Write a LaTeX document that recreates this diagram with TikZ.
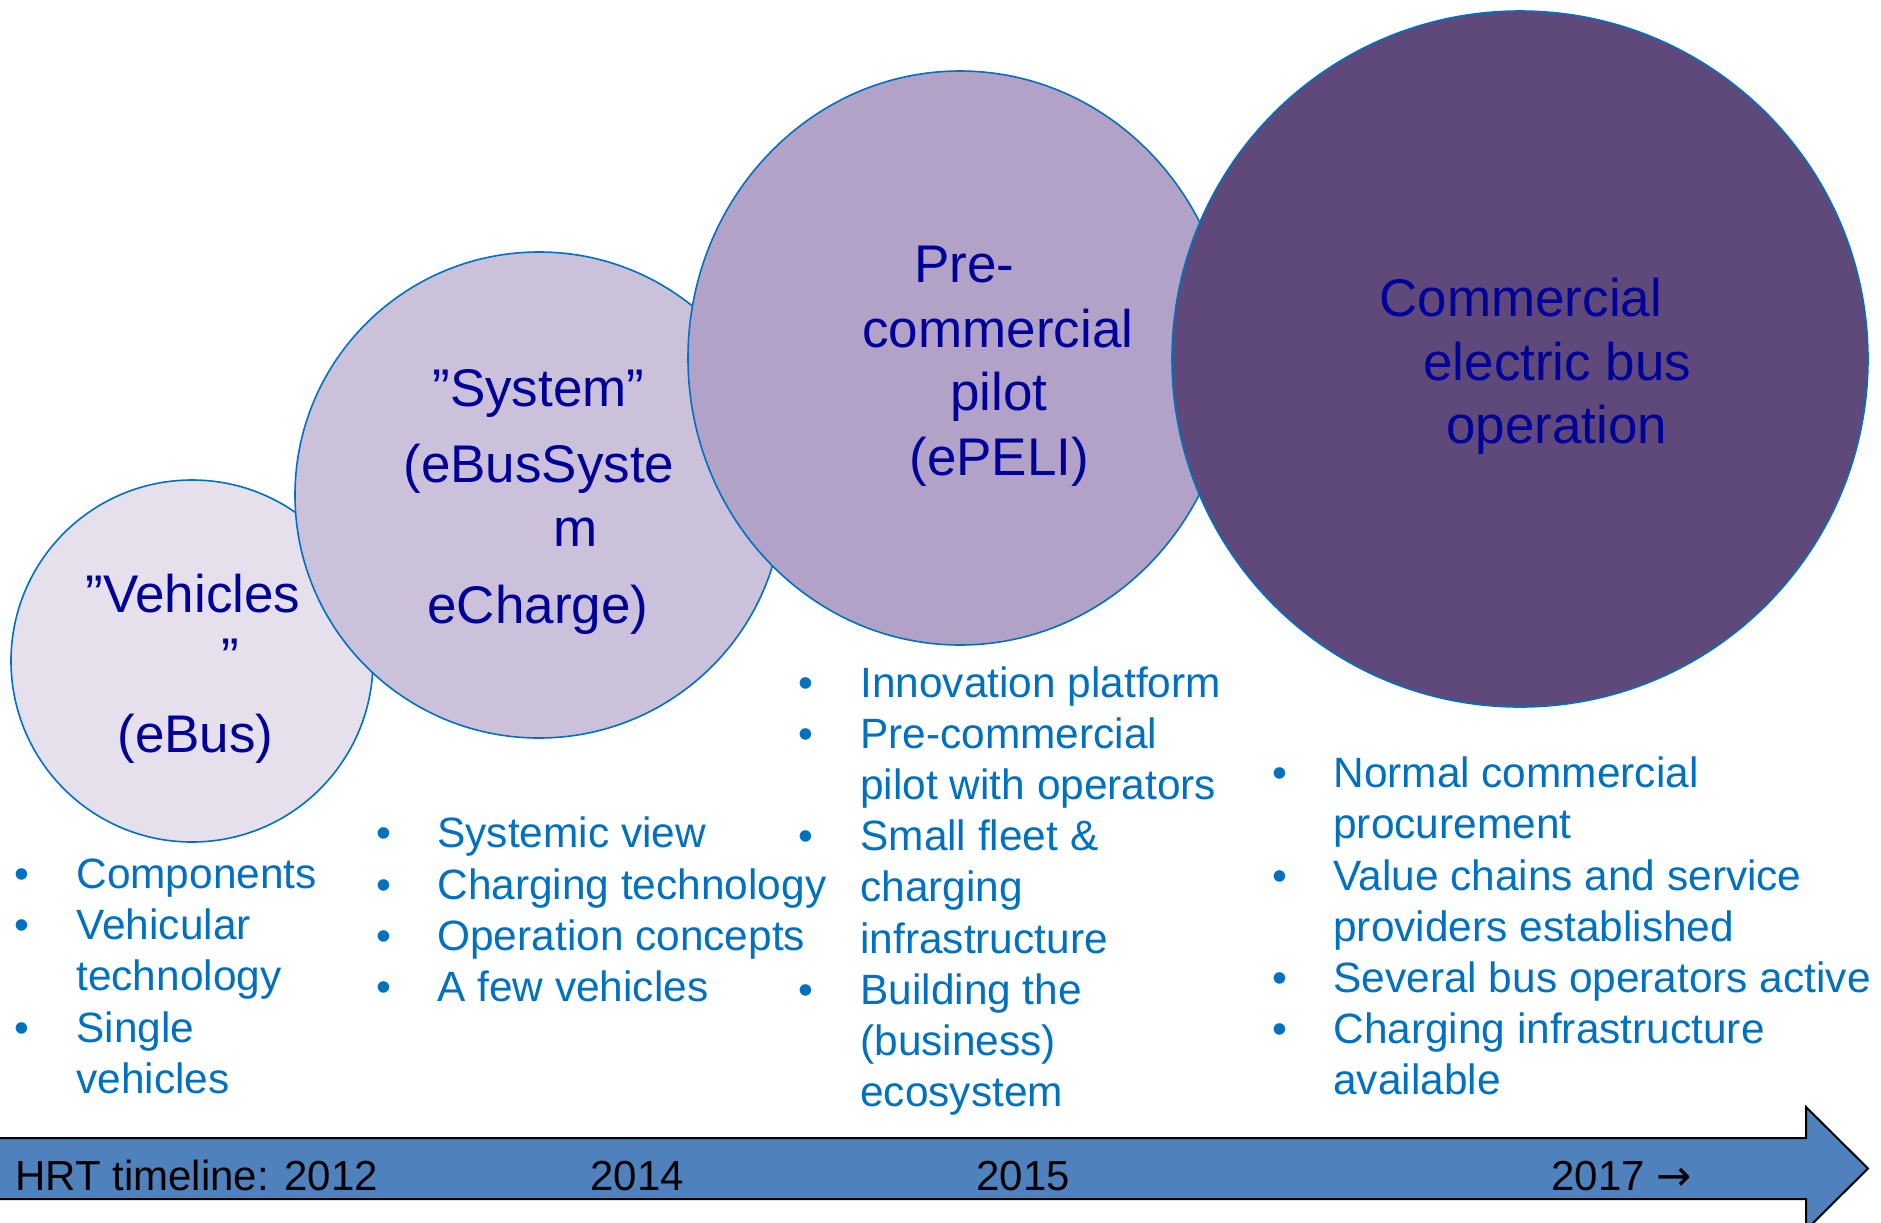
\documentclass[tikz,border=0pt]{standalone}
\usepackage{fontspec}
\setmainfont{Liberation Sans}
\newfontfamily\arrowglyphfont{DejaVu Sans}
\usetikzlibrary{shapes.geometric}
\definecolor{edgeblue}{RGB}{0,112,192}
\definecolor{navytext}{RGB}{0,0,153}
\definecolor{bultext}{RGB}{0,112,192}
\definecolor{fillA}{RGB}{229,224,236}
\definecolor{fillB}{RGB}{204,193,218}
\definecolor{fillC}{RGB}{179,162,199}
\definecolor{fillD}{RGB}{95,73,122}
\definecolor{arrowfill}{RGB}{79,129,189}
\tikzset{
  bubble/.style={draw=edgeblue, line width=0.8pt, inner sep=0pt, outer sep=0pt},
  ctext/.style={anchor=base west, inner sep=0pt, text=navytext, font=\fontsize{26.5}{30}\selectfont},
  btext/.style={anchor=base west, inner sep=0pt, text=bultext, font=\fontsize{21.2}{25}\selectfont},
  bdot/.style={anchor=base west, inner sep=0pt, text=bultext, font=\fontsize{21.2}{25}\selectfont},
  ttext/.style={anchor=base west, inner sep=0pt, text=black, font=\fontsize{21}{25}\selectfont},
}
\begin{document}
\begin{tikzpicture}[x=0.5pt,y=-0.5pt]
\useasboundingbox (0,0) rectangle (1881,1222);
\fill[white] (0,0) rectangle (1881,1222);
\clip (0,0) rectangle (1881,1222);

% bubbles
\node[bubble, circle, fill=fillA, minimum size=362pt*0.5] (c1) at (192,661) {};
\node[bubble, ellipse, fill=fillB, minimum width=488pt*0.5, minimum height=486pt*0.5] (c2) at (539,495) {};
\node[bubble, ellipse, fill=fillC, minimum width=544pt*0.5, minimum height=574pt*0.5] (c3) at (960,358) {};
\node[bubble, circle, fill=fillD, minimum size=696pt*0.5] (c4) at (1520,359) {};

% bubble texts
\node[ctext] (c1t1) at (85,612) {”Vehicles};
\node[ctext] (c1t2) at (221,675) {”};
\node[ctext] (c1t3) at (117,752) {(eBus)};

\node[ctext] (c2t1) at (432,406) {”System”};
\node[ctext] (c2t2) at (403,482) {(eBusSyste};
\node[ctext] (c2t3) at (553,546) {m};
\node[ctext] (c2t4) at (427,623) {eCharge)};

\node[ctext] (c3t1) at (914,282) {Pre-};
\node[ctext] (c3t2) at (862,347) {commercial};
\node[ctext] (c3t3) at (950,410) {pilot};
\node[ctext] (c3t4) at (909,475) {(ePELI)};

\node[ctext] (c4t1) at (1379,316) {Commercial};
\node[ctext] (c4t2) at (1423,380) {electric bus};
\node[ctext] (c4t3) at (1446,443) {operation};

% column 1
\node[bdot] (d11) at (14.6,888) {•};
\node[btext] (l11) at (76,888) {Components};
\node[bdot] (d12) at (14.6,939) {•};
\node[btext] (l12) at (76,939) {Vehicular};
\node[btext] (l13) at (76,990.5) {technology};
\node[bdot] (d13) at (14.6,1042) {•};
\node[btext] (l14) at (76,1042) {Single};
\node[btext] (l15) at (76,1093) {vehicles};

% column 2
\node[bdot] (d21) at (375.6,847) {•};
\node[btext] (l21) at (437,847) {Systemic view};
\node[bdot] (d22) at (375.6,899) {•};
\node[btext] (l22) at (437,899) {Charging technology};
\node[bdot] (d23) at (375.6,950) {•};
\node[btext] (l23) at (437,950) {Operation concepts};
\node[bdot] (d24) at (375.6,1001) {•};
\node[btext] (l24) at (437,1001) {A few vehicles};

% column 3
\node[bdot] (d31) at (797.6,697) {•};
\node[btext] (l31) at (860,697) {Innovation platform};
\node[bdot] (d32) at (797.6,748) {•};
\node[btext] (l32) at (860,748) {Pre-commercial};
\node[btext] (l33) at (860,799) {pilot with operators};
\node[bdot] (d33) at (797.6,850) {•};
\node[btext] (l34) at (860,850) {Small fleet \&};
\node[btext] (l35) at (860,901) {charging};
\node[btext] (l36) at (860,953) {infrastructure};
\node[bdot] (d34) at (797.6,1004) {•};
\node[btext] (l37) at (860,1004) {Building the};
\node[btext] (l38) at (860,1055) {(business)};
\node[btext] (l39) at (860,1106) {ecosystem};

% column 4
\node[bdot] (d41) at (1271.6,787) {•};
\node[btext] (l41) at (1333,787) {Normal commercial};
\node[btext] (l42) at (1333,838) {procurement};
\node[bdot] (d42) at (1271.6,890) {•};
\node[btext] (l43) at (1333,890) {Value chains and service};
\node[btext] (l44) at (1333,941) {providers established};
\node[bdot] (d43) at (1271.6,992) {•};
\node[btext] (l45) at (1333,992) {Several bus operators active};
\node[bdot] (d44) at (1271.6,1043) {•};
\node[btext] (l46) at (1333,1043) {Charging infrastructure};
\node[btext] (l47) at (1333,1094) {available};

% timeline arrow
\draw[fill=arrowfill, draw=black, line width=1pt, line join=miter]
  (-20,1138) -- (1806,1138) -- (1806,1107) -- (1868,1168.5) -- (1806,1230) -- (1806,1199) -- (-20,1199) -- cycle;
\node[ttext] (y12) at (15,1190) {HRT timeline: 2012};
\node[ttext] (y14) at (590,1190) {2014};
\node[ttext] (y15) at (976,1190) {2015};
\node[ttext] (y17) at (1551,1190) {2017 {\arrowglyphfont →}};
\end{tikzpicture}
\end{document}
